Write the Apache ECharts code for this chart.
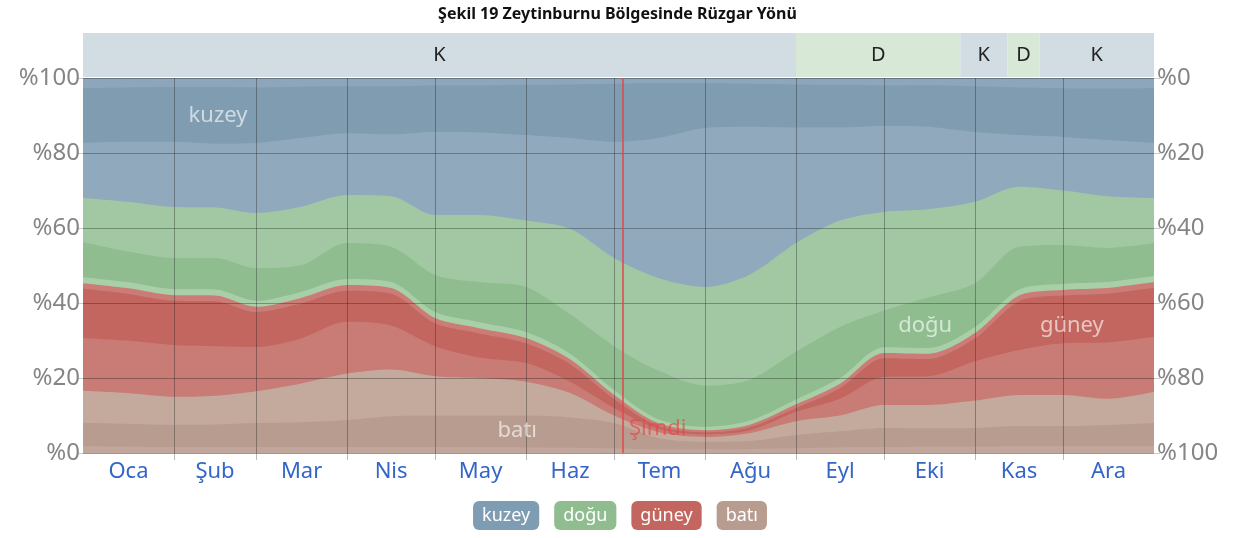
<!DOCTYPE html>
<html>
<head>
<meta charset="utf-8">
<title>Rüzgar Yönü</title>
<script src="https://cdn.jsdelivr.net/npm/echarts@6/dist/echarts.min.js"></script>
<style>
html, body { margin: 0; padding: 0; background: #fff; }
#windChart { width: 1235px; height: 538px; }
</style>
</head>
<body>
<div id="windChart"></div>
<script>
// gün (yılın günü) ve her sınırın kümülatif yüzdesi, alttan üste
var days = [0, 15, 31, 45, 59, 74, 90, 105, 120, 135, 151, 166, 181, 196, 212, 227, 243, 258, 273, 288, 304, 319, 334, 349, 365];

var batiThinTop  = [1.8, 1.7, 1.6, 1.6, 1.6, 1.6, 1.6, 1.6, 1.6, 1.6, 1.5, 1.4, 1.2, 1.0, 1.0, 1.1, 1.3, 1.5, 1.6, 1.7, 1.7, 1.8, 1.8, 1.8, 1.8];
var batiDarkTop  = [8.1, 7.8, 7.5, 7.6, 8.0, 8.2, 8.8, 9.8, 10.0, 10.0, 10.0, 9.5, 8.0, 4.0, 3.0, 3.2, 4.8, 5.8, 6.7, 6.6, 6.7, 7.2, 7.2, 7.5, 8.0];
var batiTop      = [16.6, 16.0, 15.0, 15.3, 16.5, 18.5, 21.2, 22.3, 20.5, 20.0, 19.0, 16.0, 10.0, 5.6, 4.3, 5.3, 8.5, 10.0, 12.8, 12.8, 14.0, 15.5, 15.5, 14.5, 16.3];
var guneyLightTop = [30.7, 30.0, 28.8, 28.5, 28.3, 30.5, 35.0, 34.0, 28.5, 25.5, 24.0, 19.0, 12.0, 6.5, 5.0, 6.0, 11.0, 14.5, 20.3, 20.5, 24.5, 27.5, 29.3, 29.5, 31.0];
var guneyDarkTop = [43.8, 42.5, 40.6, 40.5, 37.6, 39.8, 43.3, 42.5, 34.6, 31.9, 29.3, 23.7, 14.4, 7.2, 5.5, 6.8, 12.0, 17.3, 25.3, 25.1, 30.6, 40.5, 42.0, 42.5, 44.1];
var guneyTop     = [45.3, 44.0, 42.1, 42.0, 39.0, 41.3, 44.8, 44.0, 36.0, 33.3, 30.7, 25.0, 15.5, 8.0, 6.1, 7.5, 13.0, 18.5, 26.7, 26.5, 32.0, 42.0, 43.5, 44.0, 45.6];
var doguThinTop  = [46.9, 45.6, 43.7, 43.6, 40.6, 42.9, 46.4, 45.6, 37.6, 34.9, 32.3, 26.5, 16.8, 9.0, 7.0, 8.6, 14.3, 20.0, 28.2, 28.0, 33.6, 43.6, 45.1, 45.6, 47.2];
var doguDarkTop  = [56.3, 53.8, 52.0, 52.0, 49.3, 50.0, 56.0, 55.0, 47.5, 45.6, 44.3, 37.0, 28.5, 22.0, 18.0, 19.5, 27.0, 33.6, 38.0, 41.5, 45.3, 55.0, 55.5, 54.7, 56.0];
var doguTop      = [68.0, 67.0, 65.6, 65.5, 64.0, 65.6, 68.8, 68.5, 63.5, 63.5, 62.0, 59.8, 52.0, 46.7, 44.3, 47.5, 56.0, 62.0, 64.3, 65.0, 67.0, 71.0, 70.0, 68.5, 68.0];
var kuzeyLightTop = [82.7, 83.0, 83.0, 82.5, 82.7, 84.0, 85.3, 85.0, 85.6, 85.5, 84.8, 84.0, 83.0, 84.0, 86.7, 87.0, 86.8, 86.8, 87.2, 87.0, 85.6, 84.8, 84.3, 83.5, 82.7];
var kuzeyDarkTop = [97.3, 97.5, 97.6, 97.6, 97.5, 97.7, 97.8, 97.8, 98.0, 98.0, 98.2, 98.3, 98.5, 98.7, 98.6, 98.5, 98.3, 98.2, 98.0, 98.1, 97.8, 97.5, 97.3, 97.2, 97.3];
var kuzeyTop     = [100, 100, 100, 100, 100, 100, 100, 100, 100, 100, 100, 100, 100, 100, 100, 100, 100, 100, 100, 100, 100, 100, 100, 100, 100];

var monthNames = ['Oca', 'Şub', 'Mar', 'Nis', 'May', 'Haz', 'Tem', 'Ağu', 'Eyl', 'Eki', 'Kas', 'Ara'];
var monthEdges = [0, 31, 59, 90, 120, 151, 181, 212, 243, 273, 304, 334, 365];
var yTicks = [0, 20, 40, 60, 80, 100];

// üst şerit: baskın yön
var stripLabels = ['K', 'D', 'K', 'D', 'K'];
var stripStart = [0, 243, 299, 315, 326];
var stripEnd = [243, 299, 315, 326, 365];

var nowDay = 184;

var legendNames = ['kuzey', 'doğu', 'güney', 'batı'];
var legendColors = ['#7f9db2', '#8fbd8f', '#c2665f', '#b89c90'];

var windChart = echarts.init(document.getElementById('windChart'));

function pairs(vals) {
    var out = [];
    for (var i = 0; i < days.length; i++) {
        out.push([days[i], vals[i]]);
    }
    return out;
}

// her seri 0'dan sınırına kadar boyar; küçük olan üstte çizilir
var bands = [
    { name: 'kuzey', data: kuzeyTop, color: '#8ea6ba' },
    { name: 'kuzey', data: kuzeyDarkTop, color: '#7f9cb0' },
    { name: 'kuzey', data: kuzeyLightTop, color: '#91a9bd' },
    { name: 'doğu', data: doguTop, color: '#a2c8a3' },
    { name: 'doğu', data: doguDarkTop, color: '#8fbd8f' },
    { name: 'doğu', data: doguThinTop, color: '#a9cfa9' },
    { name: 'güney', data: guneyTop, color: '#cc7c76' },
    { name: 'güney', data: guneyDarkTop, color: '#c2665f' },
    { name: 'güney', data: guneyLightTop, color: '#c97b75' },
    { name: 'batı', data: batiTop, color: '#c4aa9d' },
    { name: 'batı', data: batiDarkTop, color: '#b89c90' },
    { name: 'batı', data: batiThinTop, color: '#c1a79b' }
];

var series = [];
for (var i = 0; i < bands.length; i++) {
    series.push({
        name: bands[i].name,
        type: 'line',
        data: pairs(bands[i].data),
        smooth: 0.3,
        symbol: 'none',
        color: bands[i].color,
        lineStyle: { width: 0 },
        areaStyle: { color: bands[i].color, opacity: 1 },
        z: 2
    });
}

var gridLineData = [];
for (var m = 1; m < monthEdges.length - 1; m++) {
    gridLineData.push({ xAxis: monthEdges[m] });
}
for (var t = 0; t < yTicks.length; t++) {
    gridLineData.push({ yAxis: yTicks[t] });
}
gridLineData.push({ xAxis: nowDay, lineStyle: { color: '#e0474c', width: 1.5 } });

series.push({
    name: 'grid',
    type: 'line',
    data: [],
    z: 5,
    markLine: {
        silent: true,
        symbol: ['none', 'none'],
        animation: false,
        label: { show: false },
        lineStyle: { color: 'rgba(30,30,30,0.36)', type: 'solid', width: 1 },
        data: gridLineData
    }
});

series.push({
    name: 'etiket',
    type: 'scatter',
    symbolSize: 0,
    z: 6,
    silent: true,
    data: [[46, 90, 'kuzey'], [148, 6, 'batı'], [287, 34, 'doğu'], [337, 34, 'güney']],
    label: {
        show: true,
        position: 'inside',
        formatter: function (p) { return p.value[2]; },
        color: 'rgba(255,255,255,0.78)',
        fontSize: 22,
        fontFamily: 'Noto Sans'
    }
});

series.push({
    name: 'simdi',
    type: 'scatter',
    symbolSize: 0,
    z: 6,
    silent: true,
    data: [[nowDay, 6.5, 'Şimdi']],
    label: {
        show: true,
        position: 'right',
        distance: 6,
        formatter: function (p) { return p.value[2]; },
        color: 'rgba(230,70,70,0.85)',
        fontSize: 22,
        fontFamily: 'Noto Sans'
    }
});

var stripAreas = [];
for (var s = 0; s < stripLabels.length; s++) {
    stripAreas.push([
        { name: stripLabels[s], xAxis: stripStart[s], itemStyle: { color: stripLabels[s] === 'K' ? '#d1dce3' : '#d8e8d7' } },
        { xAxis: stripEnd[s] }
    ]);
}
series.push({
    name: 'yon',
    type: 'line',
    xAxisIndex: 1,
    yAxisIndex: 2,
    data: [],
    markArea: {
        silent: true,
        animation: false,
        label: { show: true, position: 'inside', color: '#222', fontSize: 20, fontFamily: 'Noto Sans' },
        data: stripAreas
    }
});

var axisFont = 'Noto Sans';
var option = {
    animation: false,
    title: {
        text: 'Şekil 19 Zeytinburnu Bölgesinde Rüzgar Yönü',
        left: 'center',
        top: 1,
        textStyle: { fontSize: 16, fontWeight: 'bold', color: '#111', fontFamily: 'Noto Sans' }
    },
    legend: {
        bottom: 3,
        left: 'center',
        icon: 'none',
        itemWidth: 0,
        itemHeight: 0,
        itemGap: 10,
        selectedMode: false,
        data: legendNames.map(function (n, i) {
            return {
                name: n,
                textStyle: {
                    backgroundColor: legendColors[i],
                    color: '#fff',
                    borderRadius: 6,
                    padding: [5, 9, 6, 9],
                    fontSize: 18,
                    fontFamily: 'Noto Sans'
                }
            };
        })
    },
    grid: [
        { left: 83, right: 81, top: 78, bottom: 85 },
        { left: 83, right: 81, top: 33, height: 44 }
    ],
    xAxis: [
        {
            type: 'value',
            gridIndex: 0,
            min: 0,
            max: 365,
            splitLine: { show: false },
            axisLine: { show: true, lineStyle: { color: '#ddd' } },
            axisTick: {
                show: true,
                length: 7,
                customValues: monthEdges.slice(1, -1),
                lineStyle: { color: 'rgba(30,30,30,0.3)' }
            },
            axisLabel: {
                customValues: monthEdges.slice(0, -1).map(function (d, i) { return (d + monthEdges[i + 1]) / 2; }),
                formatter: function (v) {
                    for (var k = 0; k < 12; k++) {
                        if (v > monthEdges[k] && v < monthEdges[k + 1]) return monthNames[k];
                    }
                    return '';
                },
                color: '#3465c9',
                fontSize: 22,
                margin: 8,
                fontFamily: axisFont
            }
        },
        { type: 'value', gridIndex: 1, min: 0, max: 365, show: false }
    ],
    yAxis: [
        {
            type: 'value',
            gridIndex: 0,
            min: 0,
            max: 100,
            interval: 20,
            splitLine: { show: false },
            axisLine: { show: false },
            axisTick: { show: true, length: 6, lineStyle: { color: '#ccc' } },
            axisLabel: { formatter: '%{value}', color: '#858585', fontSize: 24, margin: 3, fontFamily: axisFont }
        },
        {
            type: 'value',
            gridIndex: 0,
            position: 'right',
            inverse: true,
            min: 0,
            max: 100,
            interval: 20,
            splitLine: { show: false },
            axisLine: { show: false },
            axisTick: { show: true, length: 6, lineStyle: { color: '#ccc' } },
            axisLabel: { formatter: '%{value}', color: '#858585', fontSize: 24, margin: 3, fontFamily: axisFont }
        },
        { type: 'value', gridIndex: 1, min: 0, max: 1, show: false }
    ],
    series: series
};
windChart.setOption(option);
</script>
</body>
</html>
